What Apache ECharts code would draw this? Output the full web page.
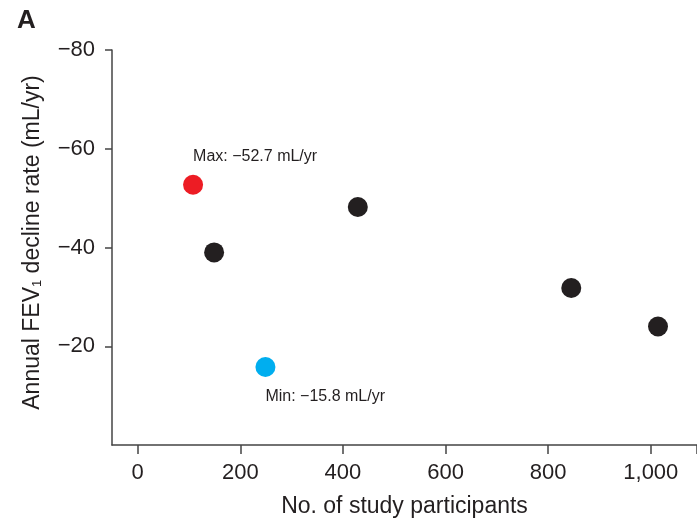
<!DOCTYPE html>
<html>
<head>
<meta charset="utf-8">
<script src="https://cdn.jsdelivr.net/npm/echarts@6/dist/echarts.min.js"></script>
<style>
  html, body { margin: 0; padding: 0; background: #fff; }
  #chart { width: 697px; height: 524px; }
</style>
</head>
<body>
<div id="chart"></div>
<script>
// study data: participants vs annual FEV1 decline (mL/yr)
const participants = [149, 429, 845, 1014];
const declineRates = [-39.0, -48.2, -31.8, -24.0];
const maxPoint = [108, -52.7];
const minPoint = [249, -15.8];
const maxLabel = 'Max: \u221252.7 mL/yr';
const minLabel = 'Min: \u221215.8 mL/yr';
const xTicks = [0, 200, 400, 600, 800, 1000];
const yTicks = [-80, -60, -40, -20];

const chart = echarts.init(document.getElementById('chart'));
const font = 'Liberation Sans, Arial, sans-serif';
const ink = '#231f20';

const option = {
  backgroundColor: '#fff',
  animation: false,
  title: {
    text: 'A',
    left: 12,
    top: 3,
    textStyle: { fontFamily: font, fontWeight: 'bold', fontSize: 26, color: ink }
  },
  grid: { left: 112, right: 0, top: 50, bottom: 79, outerBoundsMode: 'none' },
  xAxis: {
    type: 'value',
    min: -50,
    max: 1090,
    name: 'No. of study participants',
    nameLocation: 'middle',
    nameGap: 50,
    nameTextStyle: { fontFamily: font, fontSize: 23, color: ink },
    axisLine: { show: true, onZero: false, lineStyle: { color: '#444', width: 1.5 } },
    axisTick: { show: true, length: 9, lineStyle: { color: '#444', width: 1.5 }, customValues: xTicks.concat([1090]) },
    axisLabel: {
      fontFamily: font, fontSize: 22, color: ink, margin: 17,
      customValues: xTicks,
      formatter: v => v.toLocaleString('en-US')
    },
    splitLine: { show: false }
  },
  yAxis: {
    type: 'value',
    min: -80,
    max: 0,
    inverse: true,
    name: 'Annual FEV{sub|1} decline rate (mL/yr)',
    nameLocation: 'middle',
    nameGap: 68,
    nameTextStyle: {
      fontFamily: font, fontSize: 23, color: ink, padding: [0, 0, 0, 10],
      rich: { sub: { fontFamily: font, fontSize: 13, color: ink, padding: [10, 0, 0, 0] } }
    },
    axisLine: { show: true, onZero: false, lineStyle: { color: '#444', width: 1.5 } },
    axisTick: { show: true, length: 7, lineStyle: { color: '#444', width: 1.5 }, customValues: yTicks },
    axisLabel: {
      fontFamily: font, fontSize: 22, color: ink, margin: 17,
      customValues: yTicks,
      formatter: v => '\u2212' + Math.abs(v)
    },
    splitLine: { show: false }
  },
  series: [
    {
      type: 'scatter',
      symbolSize: 20,
      itemStyle: { color: ink, opacity: 1 },
      data: participants.map((p, i) => [p, declineRates[i]])
    },
    {
      type: 'scatter',
      symbolSize: 20,
      itemStyle: { color: '#ed1c24', opacity: 1 },
      label: {
        show: true, formatter: maxLabel, position: [10, -18],
        align: 'left', verticalAlign: 'middle',
        fontFamily: font, fontSize: 16, color: ink
      },
      data: [maxPoint]
    },
    {
      type: 'scatter',
      symbolSize: 20,
      itemStyle: { color: '#00aeef', opacity: 1 },
      label: {
        show: true, formatter: minLabel, position: [10, 40],
        align: 'left', verticalAlign: 'middle',
        fontFamily: font, fontSize: 16, color: ink
      },
      data: [minPoint]
    }
  ]
};

chart.setOption(option);
</script>
</body>
</html>
